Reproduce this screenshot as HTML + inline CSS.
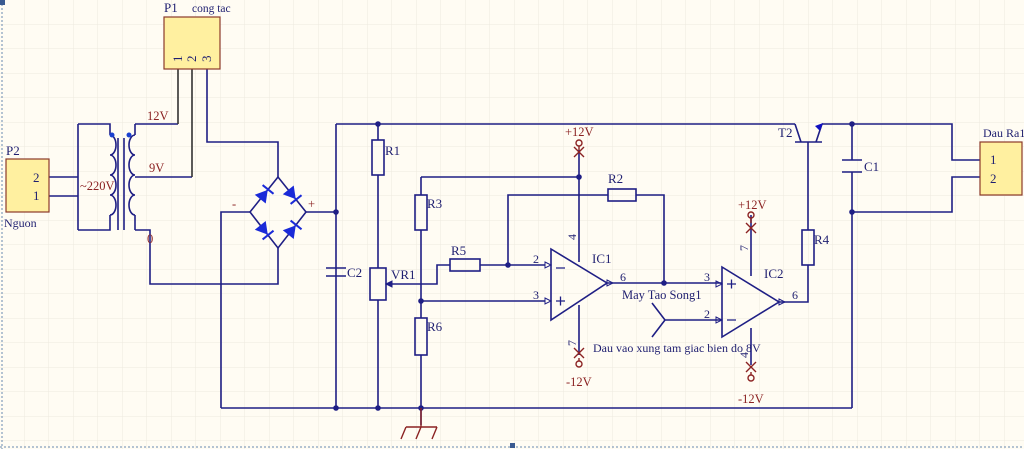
<!DOCTYPE html>
<html><head><meta charset="utf-8"><style>
html,body{margin:0;padding:0;background:#fffcf3;}
svg{display:block;font-family:"Liberation Serif",serif;}
</style></head><body>
<svg width="1024" height="449" viewBox="0 0 1024 449" xmlns="http://www.w3.org/2000/svg">
<defs>
<pattern id="g" width="24.5" height="24.5" patternUnits="userSpaceOnUse"><path d="M24.5 0V24.5H0" fill="none" stroke="#eeeadf" stroke-width="1"/></pattern>
<g id="dio"><path d="M-6 -7L-6 7L6 0Z" fill="#1a2ad8"/><path d="M6.5 -7V7" stroke="#1a2ad8" stroke-width="2"/></g>
</defs>
<rect width="1024" height="449" fill="#fffcf3"/>
<rect width="1024" height="449" fill="url(#g)"/>
<line x1="2" y1="0" x2="2" y2="449" stroke="#6a8ab0" stroke-dasharray="2,2"/>
<line x1="0" y1="447" x2="1024" y2="447" stroke="#6a8ab0" stroke-dasharray="2,2"/>
<rect x="0" y="0" width="5" height="5" fill="#3a5a90"/>
<rect x="510" y="443" width="5" height="5" fill="#3a5a90"/>

<g fill="none" stroke="#1f1f85" stroke-width="1.6">
<path d="M49 177H78M49 196H78M78 124V230M78 124H98M78 230H98"/>
<path d="M135 124H178M135 177H192M135 230H150V284H278V248"/>
<path d="M207 69V142H278V177"/>
<path d="M278 177L250 212L278 248L306 212Z"/>
<path d="M250 212H221V408M306 212H336"/>
<path d="M336 124V408M336 124H795M221 408H852"/>
<path d="M378 124V140M378 175V268M378 300V408"/>
<path d="M386 284H437V265H450M480 265H545"/>
<path d="M421 177H579M421 177V195M421 230V318M421 355V425M421 301H545"/>
<path d="M508 265V195H608M636 195H664V283"/>
<path d="M607 283H722"/>
<path d="M579 150V262M579 305V355"/>
<path d="M665 320H722M652 303L665 320L652 337"/>
<path d="M751 215V276M751 328V365"/>
<path d="M779 302H808V265M808 230V142"/>
<path d="M822 124H952V160H980M852 124V160M852 172V408M852 212H952V177H980"/>
<path d="M326 268H346M326 276H346"/>
<path d="M842 160H862M842 172H862"/>
<path d="M551 249L607 283L551 320Z"/>
<path d="M722 267L779 302L722 337Z"/>
<rect x="372" y="140" width="12" height="35"/>
<rect x="370" y="268" width="16" height="32"/>
<rect x="415" y="195" width="12" height="35"/>
<rect x="415" y="318" width="12" height="37"/>
<rect x="450" y="259" width="30" height="12"/>
<rect x="608" y="189" width="28" height="12"/>
<rect x="802" y="230" width="12" height="35"/>
<path d="M795 142H822M795 124L801 142M822 124L816 142"/>
<path d="M98 124H110V135M98 230H110V215"/>
<path d="M110 135a6 10 0 0 1 0 20a6 10 0 0 1 0 20a6 10 0 0 1 0 20a6 10 0 0 1 0 20"/>
<path d="M135 124V135M135 215V230"/>
<path d="M135 135a6 10 0 0 0 0 20a6 10 0 0 0 0 20a6 10 0 0 0 0 20a6 10 0 0 0 0 20"/>
<path d="M118 138V230M124 138V230"/>
<path d="M545 262l6 3-6 3zM545 298l6 3-6 3zM716 281l6 3-6 3zM716 317l6 3-6 3zM607 280l6 3-6 3zM779 299l6 3-6 3z" stroke-width="1"/>
<path d="M386 284l6-3v6z" fill="#1f1f85" stroke-width="1"/>
<path d="M556 268h9M556 301h9M560.5 296.5v9M727 284h9M731.5 279.5v9M727 320h9" stroke-width="1.3"/>
</g>
<g fill="none" stroke="#333" stroke-width="1.6">
<path d="M178 69V124M192 69V177"/>
</g>
<path d="M823 123l-8 3 5 5z" fill="#1010c0"/>
<use href="#dio" transform="translate(264,194.5) rotate(-51.3)"/>
<use href="#dio" transform="translate(292,194.5) rotate(51.3)"/>
<use href="#dio" transform="translate(264,230) rotate(51.3)"/>
<use href="#dio" transform="translate(292,230) rotate(-51.3)"/>
<g fill="#1f1f85">
<circle cx="336" cy="212" r="2.8"/><circle cx="378" cy="124" r="2.8"/><circle cx="336" cy="408" r="2.8"/>
<circle cx="378" cy="408" r="2.8"/><circle cx="421" cy="408" r="2.8"/><circle cx="421" cy="301" r="2.8"/>
<circle cx="579" cy="177" r="2.8"/><circle cx="508" cy="265" r="2.8"/><circle cx="664" cy="283" r="2.8"/>
<circle cx="852" cy="124" r="2.8"/><circle cx="852" cy="212" r="2.8"/>
<circle cx="112" cy="135" r="2.5" fill="#1a40d0"/><circle cx="129" cy="135" r="2.5" fill="#1a40d0"/>
</g>
<g stroke="#8b2222" stroke-width="1.4" fill="none">
<path d="M421 408V427M406 427H437M406 427l-5 12M421 427l-5 12M437 427l-5 12"/>
<path d="M574 147l10 10M584 147l-10 10M574 348l10 10M584 348l-10 10M746 223l10 10M756 223l-10 10M746 362l10 10M756 362l-10 10"/>
<circle cx="579" cy="143" r="3"/><circle cx="579" cy="364" r="3"/>
<circle cx="751" cy="215" r="3"/><circle cx="751" cy="378" r="3"/>
<path d="M579 146V150M579 358V361M751 218V223M751 372V375"/>
</g>
<rect x="164" y="17" width="56" height="52" fill="#fff0a0" stroke="#8b3a2a" stroke-width="1.2"/>
<rect x="6" y="159" width="43" height="53" fill="#fff0a0" stroke="#8b3a2a" stroke-width="1.2"/>
<rect x="980" y="142" width="42" height="53" fill="#fff0a0" stroke="#8b3a2a" stroke-width="1.2"/>
<g fill="#1f1f70" font-size="13">
<text x="164" y="12">P1</text><text x="192" y="12" font-size="11.5">cong tac</text>
<text x="6" y="155">P2</text><text x="4" y="227" font-size="12">Nguon</text>
<text x="33" y="182">2</text><text x="33" y="200">1</text>
<text x="983" y="137" font-size="12">Dau Ra1</text>
<text x="990" y="164">1</text><text x="990" y="183">2</text>
<text transform="translate(182,62) rotate(-90)">1</text>
<text transform="translate(196,62) rotate(-90)">2</text>
<text transform="translate(211,62) rotate(-90)">3</text>
<text x="385" y="155">R1</text><text x="427" y="208">R3</text><text x="427" y="331">R6</text>
<text x="451" y="255">R5</text><text x="608" y="183">R2</text><text x="814" y="244">R4</text>
<text x="391" y="279">VR1</text><text x="347" y="277">C2</text><text x="864" y="171">C1</text>
<text x="778" y="137">T2</text>
<text x="592" y="263">IC1</text><text x="764" y="278">IC2</text>
<text x="533" y="263" font-size="12">2</text><text x="533" y="299" font-size="12">3</text>
<text x="620" y="281" font-size="12">6</text>
<text x="704" y="281" font-size="12">3</text><text x="704" y="318" font-size="12">2</text>
<text x="792" y="299" font-size="12">6</text>
<text transform="translate(576,240) rotate(-90)" font-size="12">4</text>
<text transform="translate(576,346) rotate(-90)" font-size="12">7</text>
<text transform="translate(748,251) rotate(-90)" font-size="12">7</text>
<text transform="translate(748,358) rotate(-90)" font-size="12">4</text>
<text x="622" y="299" font-size="12.5">May Tao Song1</text>
<text x="593" y="352" font-size="12">Dau vao xung tam giac bien do 8V</text>
</g>
<g fill="#8b2222" font-size="12.5">
<text x="147" y="120">12V</text><text x="149" y="172">9V</text><text x="147" y="243">0</text>
<text x="80" y="190">~220V</text>
<text x="232" y="208">-</text><text x="308" y="208">+</text>
<text x="565" y="136">+12V</text><text x="566" y="386">-12V</text>
<text x="738" y="209">+12V</text><text x="738" y="403">-12V</text>
</g>
</svg>
</body></html>
